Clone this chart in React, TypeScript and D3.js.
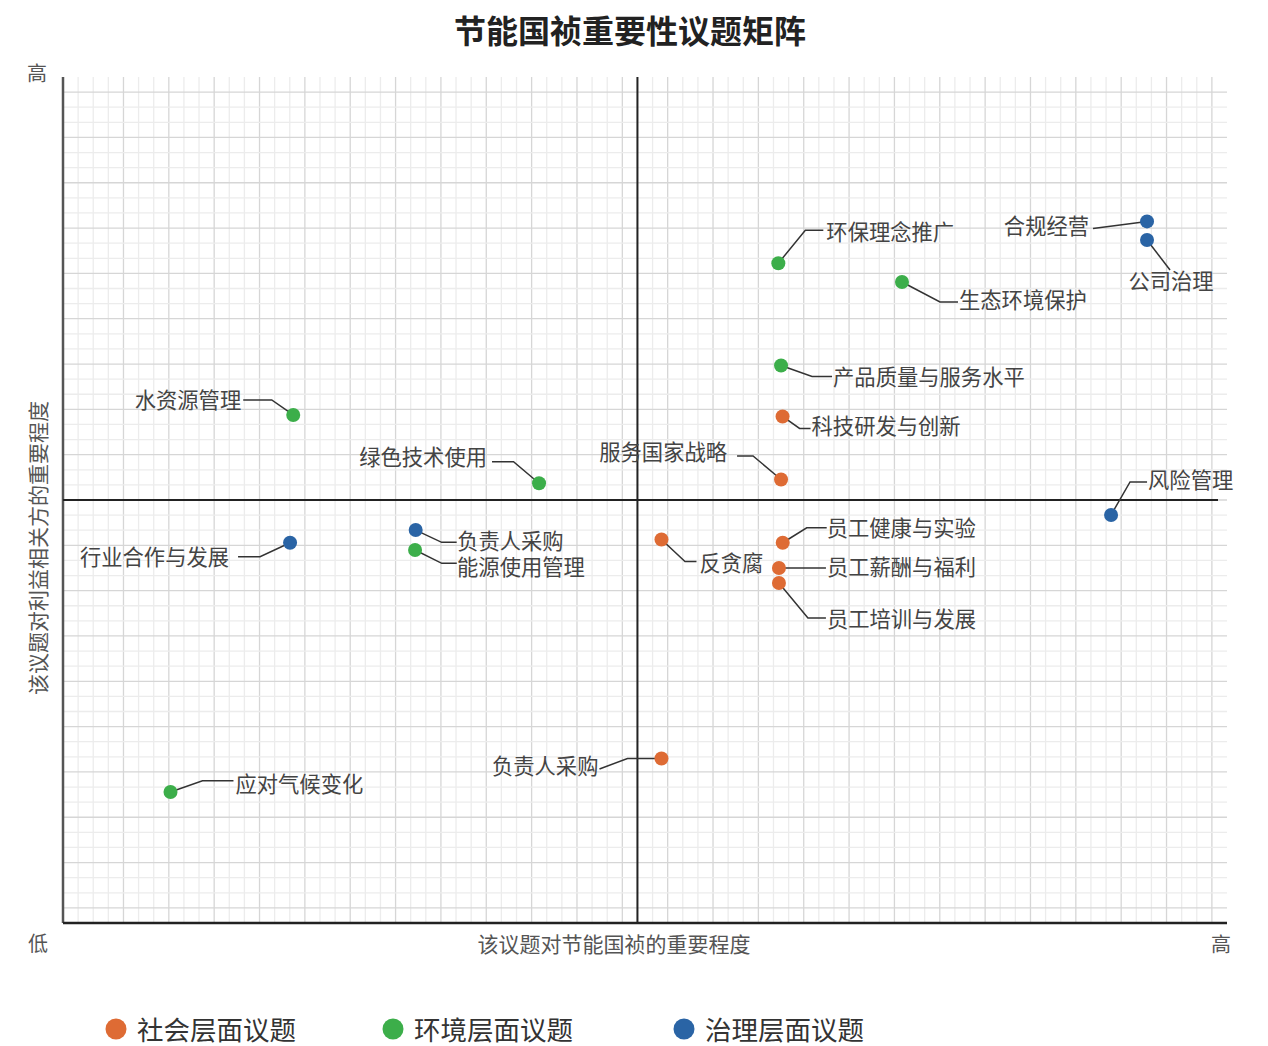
import React from 'react';
import * as d3 from 'd3';

// ---- data ----
const issueNames = [
  '环保理念推广', '合规经营', '公司治理', '生态环境保护', '产品质量与服务水平',
  '科技研发与创新', '服务国家战略', '风险管理', '员工健康与实验', '员工薪酬与福利',
  '员工培训与发展', '反贪腐', '水资源管理', '绿色技术使用', '行业合作与发展',
  '负责人采购', '能源使用管理', '应对气候变化', '负责人采购',
];
// 0 = 社会, 1 = 环境, 2 = 治理
const issueGroup = [1, 2, 2, 1, 1, 0, 0, 2, 0, 0, 0, 0, 1, 1, 2, 2, 1, 1, 0];
// importance to the company (x) / to stakeholders (y), in grid units
const issueX = [47.32, 71.71, 71.71, 55.5, 47.5, 47.6, 47.5, 69.33, 47.61, 47.36, 47.36, 39.59, 15.23, 31.49, 15.02, 23.33, 23.29, 7.11, 39.59];
const issueY = [43.67, 46.44, 45.21, 42.43, 36.9, 33.53, 29.36, 27.01, 25.17, 23.5, 22.51, 25.39, 33.63, 29.11, 25.17, 26.01, 24.69, 8.67, 10.89];

const groupNames = ['社会层面议题', '环境层面议题', '治理层面议题'];
const groupColors = ['#de6b34', '#3cae4a', '#2a64a5'];

const xMax = 77;
const yMax = 56;
const xMid = 38;
const yMid = 28;

// label leader layout (pixel offsets from each dot)
type Lay = { d1: [number, number]; d2: [number, number]; t: [number, number]; a: string };
const labelLayout: Lay[] = [
  { d1: [27, -33], d2: [45, -33], t: [48, -31], a: 'start' },
  { d1: [-54, 7], d2: [-54, 7], t: [-58, 4.5], a: 'end' },
  { d1: [23, 30], d2: [23, 30], t: [24, 41], a: 'middle' },
  { d1: [38, 20], d2: [56, 20], t: [57, 18], a: 'start' },
  { d1: [31, 11], d2: [51, 11], t: [52, 11.5], a: 'start' },
  { d1: [17, 12], d2: [28, 12], t: [29, 9.5], a: 'start' },
  { d1: [-28, -23.5], d2: [-44, -23.5], t: [-54, -27.5], a: 'end' },
  { d1: [19, -33], d2: [36, -33], t: [37, -35], a: 'start' },
  { d1: [24, -15], d2: [44, -15], t: [44, -14.7], a: 'start' },
  { d1: [10, 0], d2: [47, 0], t: [48, -1], a: 'start' },
  { d1: [29, 35], d2: [47, 35], t: [48, 36], a: 'start' },
  { d1: [23.5, 22], d2: [35, 22], t: [38, 23.5], a: 'start' },
  { d1: [-21.5, -15], d2: [-50, -15], t: [-52, -15], a: 'end' },
  { d1: [-25.5, -21.5], d2: [-47, -21.5], t: [-52, -26], a: 'end' },
  { d1: [-30, 14], d2: [-52, 14], t: [-61, 14.3], a: 'end' },
  { d1: [26, 12.3], d2: [41, 12.3], t: [41.5, 11], a: 'start' },
  { d1: [26.7, 13.3], d2: [41.7, 13.3], t: [42, 17], a: 'start' },
  { d1: [32, -11.3], d2: [63, -11.3], t: [65, -8], a: 'start' },
  { d1: [-34, 0], d2: [-62, 10.5], t: [-63, 7.5], a: 'end' },
];

const W = 1268;
const H = 1046;
const M = { top: 77, right: 41, bottom: 123, left: 63 };
const FONT = '"Noto Sans CJK SC", "Noto Sans", sans-serif';
const legendX = [116, 393, 684];

export default function App() {
  const x = d3.scaleLinear().domain([0, xMax]).range([M.left, W - M.right]);
  const y = d3.scaleLinear().domain([0, yMax]).range([H - M.bottom, M.top]);

  const vLines = d3.range(1, xMax);
  const hLines = d3.range(1, yMax);

  const leader = d3.line<[number, number]>();

  return (
    <svg width={W} height={H} style={{ position: 'absolute', left: 0, top: 0, display: 'block', background: '#fff' }} fontFamily={FONT}>
      {/* title */}
      <text x={630} y={29} textAnchor="middle" dominantBaseline="central" fontSize={32} fontWeight="bold" fill="#222">
        节能国祯重要性议题矩阵
      </text>

      {/* grid */}
      <g>
        {vLines.map(i => (
          <line key={'v' + i} x1={x(i)} x2={x(i)} y1={y(yMax)} y2={y(0)}
            stroke={i % 3 === 1 && i > 1 ? '#d6d6d6' : '#ececec'} strokeWidth={1.3} />
        ))}
        {hLines.map(i => (
          <line key={'h' + i} x1={x(0)} x2={x(xMax)} y1={y(i)} y2={y(i)}
            stroke={(yMax - i) % 3 === 1 ? '#d6d6d6' : '#ececec'} strokeWidth={1.3} />
        ))}
      </g>

      {/* axes */}
      <line x1={x(0)} x2={x(0)} y1={y(yMax)} y2={y(0)} stroke="#555" strokeWidth={2.5} />
      <line x1={x(0)} x2={x(xMax)} y1={y(0)} y2={y(0)} stroke="#222" strokeWidth={2.5} />
      {/* quadrant dividers */}
      <line x1={x(xMid)} x2={x(xMid)} y1={y(yMax)} y2={y(0)} stroke="#222" strokeWidth={2} />
      <line x1={x(0)} x2={x(xMax) - 9} y1={y(yMid)} y2={y(yMid)} stroke="#222" strokeWidth={2} />

      {/* axis captions */}
      <text x={37} y={72} textAnchor="middle" dominantBaseline="central" fontSize={20} fill="#555">高</text>
      <text x={38} y={942} textAnchor="middle" dominantBaseline="central" fontSize={20} fill="#555">低</text>
      <text x={1221} y={943} textAnchor="middle" dominantBaseline="central" fontSize={20} fill="#555">高</text>
      <text x={614} y={943} textAnchor="middle" dominantBaseline="central" fontSize={21} fill="#555">
        该议题对节能国祯的重要程度
      </text>
      <text transform={`translate(37,548) rotate(-90)`} textAnchor="middle" dominantBaseline="central" fontSize={21} fill="#555">
        该议题对利益相关方的重要程度
      </text>

      {/* leaders + labels */}
      {issueNames.map((name, i) => {
        const px = x(issueX[i]);
        const py = y(issueY[i]);
        const L = labelLayout[i];
        const pts: [number, number][] = [
          [px, py],
          [px + L.d1[0], py + L.d1[1]],
          [px + L.d2[0], py + L.d2[1]],
        ];
        return (
          <g key={'l' + i}>
            <path d={leader(pts) ?? ''} fill="none" stroke="#333" strokeWidth={1.5} />
            <text x={px + L.t[0]} y={py + L.t[1] - 1.5} textAnchor={L.a} dominantBaseline="central" fontSize={21.3} fill="#444">
              {name}
            </text>
          </g>
        );
      })}

      {/* dots */}
      {issueNames.map((name, i) => (
        <circle key={'c' + i} cx={x(issueX[i])} cy={y(issueY[i])} r={7} fill={groupColors[issueGroup[i]]} />
      ))}

      {/* legend */}
      {groupNames.map((g, i) => (
        <g key={'g' + i}>
          <circle cx={legendX[i]} cy={1029} r={10.5} fill={groupColors[i]} />
          <text x={legendX[i] + 21} y={1028} dominantBaseline="central" fontSize={26.5} fill="#333">{g}</text>
        </g>
      ))}
    </svg>
  );
}
